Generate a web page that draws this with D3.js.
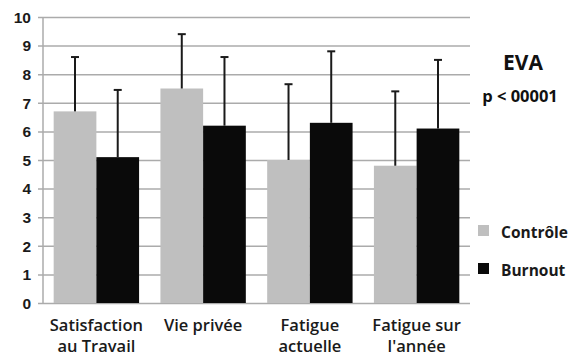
<!DOCTYPE html>
<html>
<head>
<meta charset="utf-8">
<script src="https://cdn.jsdelivr.net/npm/d3@7"></script>
<style>
  html, body { margin: 0; padding: 0; background: #fff; }
  svg { display: block; font-family: "Open Sans", sans-serif; }
</style>
</head>
<body>
<svg id="chart" width="571" height="358"></svg>
<script>
// Category labels (two lines each)
const categories = ["Satisfaction au Travail", "Vie privée", "Fatigue actuelle", "Fatigue sur l'année"];
const categoryLines = [["Satisfaction", "au Travail"], ["Vie privée"], ["Fatigue", "actuelle"], ["Fatigue sur", "l'année"]];
const seriesNames = ["Contrôle", "Burnout"];
// Means and upper end of the error bars (mean + SD)
const controleMean = [6.7, 7.5, 5.0, 4.8];
const controleUpper = [8.6, 9.4, 7.65, 7.4];
const burnoutMean = [5.1, 6.2, 6.3, 6.1];
const burnoutUpper = [7.45, 8.6, 8.8, 8.5];
const yTicks = [0, 1, 2, 3, 4, 5, 6, 7, 8, 9, 10];
const colors = ["#bfbfbf", "#0a0a0a"];

const svg = d3.select("#chart");
const plotLeft = 43, plotRight = 470, plotTop = 17, plotBottom = 303;

const x = d3.scaleBand().domain(categories).range([plotLeft, plotRight]).paddingInner(0.2).paddingOuter(0.1);
const xs = d3.scaleBand().domain(seriesNames).range([0, x.bandwidth()]);
const y = d3.scaleLinear().domain([0, 10]).range([plotBottom, plotTop]);

// Gridlines with tick marks on the left
const yAxis = d3.axisLeft(y).tickValues(yTicks).tickSize(-(plotRight - plotLeft + 5)).tickFormat(d3.format("d"));
const gy = svg.append("g").attr("transform", `translate(${plotLeft - 5},0)`).call(yAxis);
gy.select(".domain").remove();
gy.selectAll(".tick line").attr("stroke", "#ababab").attr("stroke-width", 1.5).attr("x1", 0);
gy.selectAll(".tick text").attr("font-size", 15.5).attr("font-weight", 700).attr("fill", "#1a1a1a")
  .attr("x", -7).attr("dy", "0.34em");

// Vertical axis line
svg.append("line").attr("x1", plotLeft).attr("x2", plotLeft).attr("y1", plotTop).attr("y2", plotBottom)
  .attr("stroke", "#ababab").attr("stroke-width", 1.5);

const series = [
  { name: seriesNames[0], mean: controleMean, upper: controleUpper, color: colors[0] },
  { name: seriesNames[1], mean: burnoutMean, upper: burnoutUpper, color: colors[1] }
];

series.forEach(s => {
  const g = svg.append("g");
  categories.forEach((c, i) => {
    const bx = x(c) + xs(s.name);
    g.append("rect").attr("x", bx).attr("width", xs.bandwidth())
      .attr("y", y(s.mean[i])).attr("height", y(0) - y(s.mean[i])).attr("fill", s.color);
  });
});

// Error bars
series.forEach(s => {
  const g = svg.append("g").attr("stroke", "#1a1a1a").attr("stroke-width", 2);
  categories.forEach((c, i) => {
    const cx = x(c) + xs(s.name) + xs.bandwidth() / 2;
    g.append("line").attr("x1", cx).attr("x2", cx).attr("y1", y(s.mean[i])).attr("y2", y(s.upper[i]));
    g.append("line").attr("x1", cx - 4).attr("x2", cx + 4).attr("y1", y(s.upper[i])).attr("y2", y(s.upper[i]));
  });
});

// Category labels
categories.forEach((c, i) => {
  const t = svg.append("text").attr("x", x(c) + x.bandwidth() / 2).attr("y", 331)
    .attr("text-anchor", "middle").attr("font-size", 16.5).attr("font-weight", 600).attr("fill", "#1a1a1a");
  categoryLines[i].forEach((ln, j) => {
    t.append("tspan").attr("x", x(c) + x.bandwidth() / 2).attr("dy", j === 0 ? 0 : 21).text(ln);
  });
});

// Title and significance
svg.append("text").attr("x", 523).attr("y", 70).attr("text-anchor", "middle")
  .attr("font-size", 21).attr("font-weight", 700).attr("fill", "#111").text("EVA");
svg.append("text").attr("x", 520).attr("y", 102).attr("text-anchor", "middle")
  .attr("font-size", 16.5).attr("font-weight", 700).attr("fill", "#111").text("p < 00001");

// Legend
const legend = svg.append("g");
series.forEach((s, i) => {
  const ly = 225 + i * 38;
  legend.append("rect").attr("x", 478).attr("y", ly).attr("width", 11).attr("height", 11).attr("fill", s.color);
  legend.append("text").attr("x", 501).attr("y", ly + 12.5).attr("font-size", 15.5).attr("font-weight", 700)
    .attr("fill", "#1a1a1a").text(s.name);
});
</script>
</body>
</html>
